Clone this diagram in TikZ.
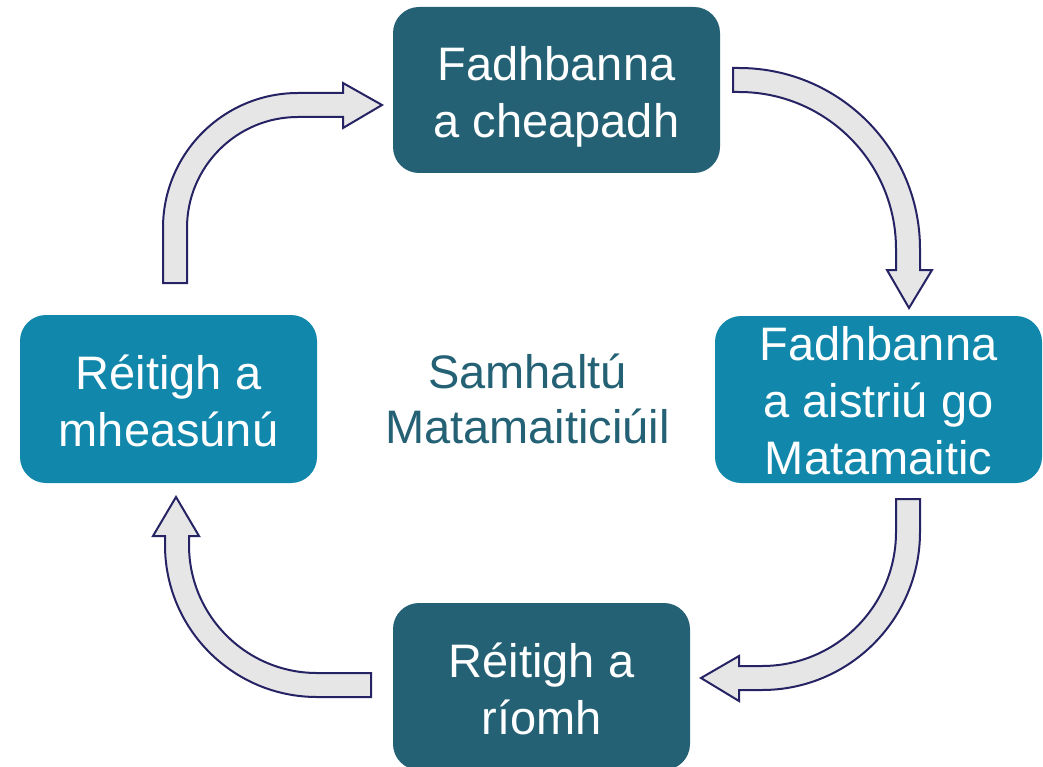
\documentclass[tikz,border=0pt]{standalone}
\usepackage{fontspec}
\setmainfont{Liberation Sans}
\definecolor{boxdark}{RGB}{36,97,117}
\definecolor{boxlight}{RGB}{16,135,171}
\definecolor{arrowfill}{RGB}{230,230,230}
\definecolor{arrowline}{RGB}{38,35,100}
\newcommand\stacklines[1]{\begin{tabular}[t]{@{}c@{}}#1\end{tabular}}
\begin{document}
\begin{tikzpicture}[x=1pt,y=-1pt,
  stagebox/.style={rectangle, rounded corners=26pt, inner sep=0pt,
    text=white, font=\fontsize{47}{57}\selectfont},
  darkstage/.style={stagebox, fill=boxdark},
  lightstage/.style={stagebox, fill=boxlight},
  twoline/.style={text height=0pt, text depth=19pt},
  threeline/.style={text height=0pt, text depth=79pt},
  cyclearrow/.style={fill=arrowfill, draw=arrowline, line width=2pt, line join=miter},
  centrelabel/.style={inner sep=0pt, anchor=base, text=boxdark,
    font=\fontsize{47}{55}\selectfont}]
\useasboundingbox (0,0) rectangle (1043,767);
\clip (0,0) rectangle (1043,767);

% the four stages of the cycle
\node[darkstage, twoline, minimum width=327pt, minimum height=166pt] (pose)
  at (556.5,90) {\stacklines{Fadhbanna\\a cheapadh}};
\node[lightstage, threeline, minimum width=327pt, minimum height=167pt] (translate)
  at (878.5,399.5) {\stacklines{Fadhbanna\\a aistriú go\\Matamaitic}};
\node[darkstage, twoline, minimum width=297pt, minimum height=167pt] (compute)
  at (541.5,686.5) {\stacklines{Réitigh a\\ríomh}};
\node[lightstage, twoline, minimum width=297pt, minimum height=168pt] (evaluate)
  at (168.5,399) {\stacklines{Réitigh a\\mheasúnú}};

% title in the middle
\node[centrelabel] (model) at (527.5,388) {\stacklines{Samhaltú\\Matamaiticiúil}};

% curved block arrows between the stages
% evaluate -> pose
\draw[cyclearrow] (163,283) -- (163,228) arc[start angle=180, end angle=90, radius=135pt]
  -- (343,93) -- (343,83) -- (382,105) -- (343,128) -- (343,117) -- (298,117)
  arc[start angle=90, end angle=180, radius=111pt] -- (187,283) -- cycle;
% pose -> translate
\draw[cyclearrow] (733,68) -- (739,68) arc[start angle=90, end angle=0, radius=181pt]
  -- (920,270) -- (932,270) -- (909,308) -- (887,270) -- (896,270) -- (896,249)
  arc[start angle=0, end angle=90, radius=157pt] -- (733,92) -- cycle;
% translate -> compute
\draw[cyclearrow] (920,499) -- (920,532) arc[start angle=0, end angle=-90, radius=158pt]
  -- (739,690) -- (739,701) -- (701,678) -- (739,656) -- (739,666) -- (762,666)
  arc[start angle=-90, end angle=0, radius=134pt] -- (896,499) -- cycle;
% compute -> evaluate
\draw[cyclearrow] (371,697) -- (317,697) arc[start angle=-90, end angle=-180, radius=152pt]
  -- (165,536) -- (153,536) -- (176,497) -- (199,536) -- (189,536) -- (189,545)
  arc[start angle=180, end angle=270, radius=128pt] -- (371,673) -- cycle;
\end{tikzpicture}
\end{document}
